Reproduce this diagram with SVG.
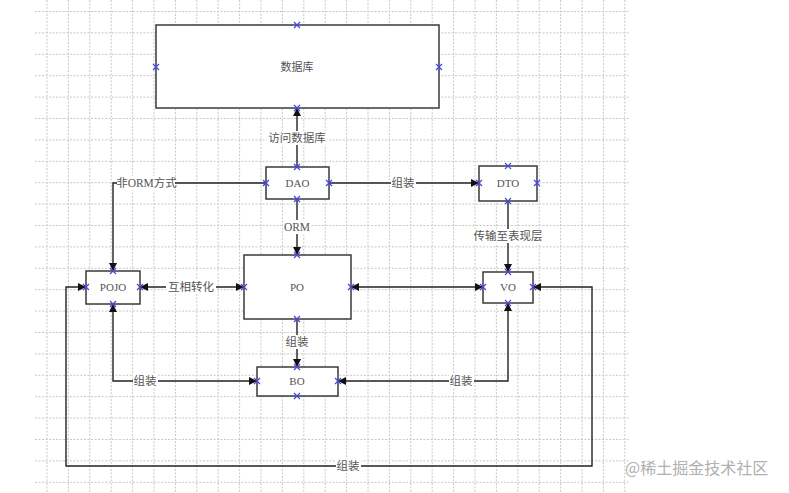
<svg xmlns="http://www.w3.org/2000/svg" width="789" height="493" viewBox="0 0 789 493">
<style>
.grid{stroke:#c8c8c8;stroke-width:1;stroke-dasharray:2,1.5;fill:none}
.node{fill:#fff;stroke:#3a3a3a;stroke-width:1.5}
.t{font-family:"Liberation Serif","Noto Sans CJK SC",serif;font-size:11px;fill:#555;text-anchor:middle;dominant-baseline:central}
.lbl{font-family:"Liberation Serif","Noto Sans CJK SC",serif;font-size:11.5px;fill:#555;text-anchor:middle;dominant-baseline:central}
.edge{fill:none;stroke:#222;stroke-width:1.4}
.bg{fill:#fff}
.pt{stroke:#4646dc;stroke-width:1.2;fill:none}
</style>
<defs>
<marker id="arr" viewBox="0 0 10 10" refX="10" refY="5" markerWidth="8" markerHeight="8" markerUnits="userSpaceOnUse" orient="auto-start-reverse">
<path d="M0,0 L10,5 L0,10 z" fill="#111"/>
</marker>
<path id="x" d="M-3,-3 L3,3 M-3,3 L3,-3" class="pt"/>
</defs>
<rect width="789" height="493" fill="#fff"/>
<g id="grid">
<path class="grid" d="M47,0V493M68.4,0V493M89.8,0V493M111.2,0V493M132.6,0V493M154,0V493M175.4,0V493M196.8,0V493M218.2,0V493M239.6,0V493M261,0V493M282.4,0V493M303.8,0V493M325.2,0V493M346.6,0V493M368,0V493M389.4,0V493M410.8,0V493M432.2,0V493M453.6,0V493M475,0V493M496.4,0V493M517.8,0V493M539.2,0V493M560.6,0V493M582,0V493M603.4,0V493M624.8,0V493"/>
<path class="grid" d="M35,11.5H629M35,32.9H629M35,54.3H629M35,75.7H629M35,97.1H629M35,118.5H629M35,139.9H629M35,161.3H629M35,182.7H629M35,204.1H629M35,225.5H629M35,246.9H629M35,268.3H629M35,289.7H629M35,311.1H629M35,332.5H629M35,353.9H629M35,375.3H629M35,396.7H629M35,418.1H629M35,439.5H629M35,460.9H629M35,482.3H629"/>
</g>
<g id="connectors">
<path class="edge" d="M297,167V108" marker-end="url(#arr)"/>
<path class="edge" d="M266,183H113V271" marker-end="url(#arr)"/>
<path class="edge" d="M329,183H479" marker-end="url(#arr)"/>
<path class="edge" d="M297,199V255" marker-end="url(#arr)"/>
<path class="edge" d="M508,201V272" marker-end="url(#arr)"/>
<path class="edge" d="M140,287H244" marker-start="url(#arr)" marker-end="url(#arr)"/>
<path class="edge" d="M351,287H483" marker-start="url(#arr)" marker-end="url(#arr)"/>
<path class="edge" d="M297,319V367" marker-end="url(#arr)"/>
<path class="edge" d="M113,304V381H257" marker-start="url(#arr)" marker-end="url(#arr)"/>
<path class="edge" d="M338,381H508V303" marker-start="url(#arr)" marker-end="url(#arr)"/>
<path class="edge" d="M86,287H66V466H592V287H533" marker-start="url(#arr)" marker-end="url(#arr)"/>
<rect class="bg" x="267" y="131" width="60" height="14"/>
<text class="lbl" x="297" y="138">访问数据库</text>
<rect class="bg" x="117" y="176" width="58" height="14"/>
<text class="lbl" x="146.5" y="183">非ORM方式</text>
<rect class="bg" x="391" y="176" width="25" height="14"/>
<text class="lbl" x="403" y="183">组装</text>
<rect class="bg" x="283" y="220" width="28" height="14"/>
<text class="lbl" x="297" y="227">ORM</text>
<rect class="bg" x="471" y="229" width="74" height="14"/>
<text class="lbl" x="508" y="236">传输至表现层</text>
<rect class="bg" x="166" y="280" width="50" height="14"/>
<text class="lbl" x="191" y="287">互相转化</text>
<rect class="bg" x="285" y="335" width="25" height="14"/>
<text class="lbl" x="297" y="342">组装</text>
<rect class="bg" x="133" y="374" width="25" height="14"/>
<text class="lbl" x="145" y="381">组装</text>
<rect class="bg" x="449" y="374" width="25" height="14"/>
<text class="lbl" x="461" y="381">组装</text>
<rect class="bg" x="336" y="459" width="25" height="14"/>
<text class="lbl" x="348" y="466">组装</text>
</g>
<g id="db">
<rect class="node" x="156" y="25" width="283" height="83"/>
<text class="t" x="297" y="67">数据库</text>
<use href="#x" x="297" y="25"/><use href="#x" x="156" y="67"/><use href="#x" x="439" y="67"/><use href="#x" x="297" y="108"/>
</g>
<g id="dao">
<rect class="node" x="266" y="167" width="63" height="32"/>
<text class="t" x="297.5" y="183">DAO</text>
<use href="#x" x="297" y="167"/><use href="#x" x="266" y="183"/><use href="#x" x="329" y="183"/><use href="#x" x="297" y="199"/>
</g>
<g id="dto">
<rect class="node" x="479" y="166" width="58" height="35"/>
<text class="t" x="508" y="183">DTO</text>
<use href="#x" x="508" y="166"/><use href="#x" x="479" y="183"/><use href="#x" x="537" y="183"/><use href="#x" x="508" y="201"/>
</g>
<g id="po">
<rect class="node" x="244" y="255" width="107" height="64"/>
<text class="t" x="297" y="287">PO</text>
<use href="#x" x="297" y="255"/><use href="#x" x="244" y="287"/><use href="#x" x="351" y="287"/><use href="#x" x="297" y="319"/>
</g>
<g id="pojo">
<rect class="node" x="86" y="271" width="54" height="33"/>
<text class="t" x="113" y="287">POJO</text>
<use href="#x" x="113" y="271"/><use href="#x" x="86" y="287"/><use href="#x" x="140" y="287"/><use href="#x" x="113" y="304"/>
</g>
<g id="vo">
<rect class="node" x="483" y="272" width="50" height="31"/>
<text class="t" x="508" y="287">VO</text>
<use href="#x" x="508" y="272"/><use href="#x" x="483" y="287"/><use href="#x" x="533" y="287"/><use href="#x" x="508" y="303"/>
</g>
<g id="bo">
<rect class="node" x="257" y="367" width="81" height="29"/>
<text class="t" x="297" y="381">BO</text>
<use href="#x" x="297" y="367"/><use href="#x" x="257" y="381"/><use href="#x" x="338" y="381"/><use href="#x" x="297" y="396"/>
</g>
<text x="625" y="474" font-family="'Noto Sans CJK SC',sans-serif" font-size="16" fill="#b0b0b0">@稀土掘金技术社区</text>
</svg>
